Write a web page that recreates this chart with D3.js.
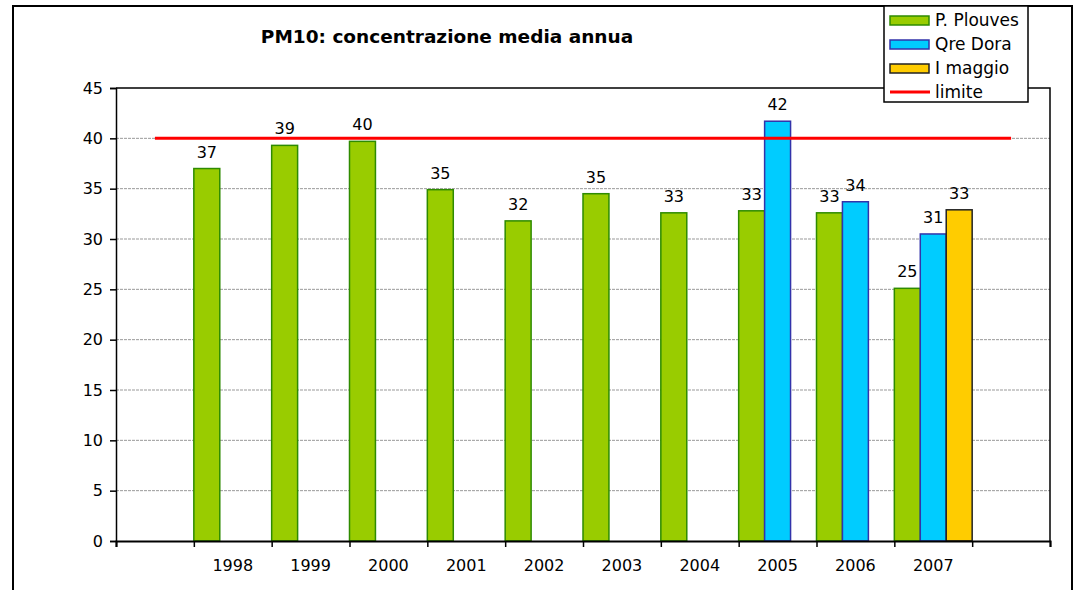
<!DOCTYPE html>
<html><head><meta charset="utf-8">
<script src="https://cdn.jsdelivr.net/npm/d3@7"></script>
<style>body{margin:0;background:#fff}svg{display:block}text{font-family:"DejaVu Sans",Verdana,sans-serif;fill:#000}</style>
</head><body><svg id="c" width="1076" height="590"></svg>
<script>
const categories = ["", "1998","1999","2000","2001","2002","2003","2004","2005","2006","2007", ""];
const seriesNames = ["P. Plouves","Qre Dora","I maggio"];
const plouves = [null, 37.0, 39.3, 39.7, 34.9, 31.8, 34.5, 32.6, 32.8, 32.6, 25.1, null];
const qreDora = [null, null, null, null, null, null, null, null, 41.7, 33.7, 30.5, null];
const maggio  = [null, null, null, null, null, null, null, null, null, null, 32.9, null];
const limite  = [40, 40, 40, 40, 40, 40, 40, 40, 40, 40, 40, 40];
const yTicks = [0,5,10,15,20,25,30,35,40,45];
const title = "PM10: concentrazione media annua";

const fills = ["#99CC00","#00CCFF","#FFCC00"];
const strokes = ["#2E8B00","#3333AA","#222222"];

const svg = d3.select("#c");
const L=116, R=1050, T=88, B=541;
// outer border
svg.append("rect").attr("x",13).attr("y",6).attr("width",1059).attr("height",600)
  .attr("fill","#fff").attr("stroke","#000").attr("stroke-width",2);

const x = d3.scaleBand().domain(d3.range(categories.length)).range([L,R]).padding(0);
const xs = d3.scaleBand().domain(d3.range(3)).range([0,x.bandwidth()]).padding(0);
const y = d3.scaleLinear().domain([0,45]).range([B,T]);

// gridlines
svg.append("g").selectAll("line").data(yTicks.filter(t=>t>0 && t<45)).join("line")
  .attr("x1",L).attr("x2",R).attr("y1",d=>y(d)).attr("y2",d=>y(d))
  .attr("stroke","#999").attr("stroke-width",1).attr("stroke-dasharray","3,1");

// plot frame top/right
svg.append("path").attr("d",`M${L},${T}H${R}V${B}`).attr("fill","none").attr("stroke","#000").attr("stroke-width",1.5);

// bars
const series = [plouves,qreDora,maggio];
const barData = [];
series.forEach((s,si)=>s.forEach((v,ci)=>{ if(v!=null) barData.push({si,ci,v}); }));
svg.append("g").selectAll("rect").data(barData).join("rect")
  .attr("x",d=>x(d.ci)+xs(d.si)).attr("width",xs.bandwidth())
  .attr("y",d=>y(d.v)).attr("height",d=>y(0)-y(d.v))
  .attr("fill",d=>fills[d.si]).attr("stroke",d=>strokes[d.si]).attr("stroke-width",1.5);

// limit line
const line = d3.line().x((d,i)=>x(i)+x.bandwidth()/2).y(d=>y(d));
svg.append("path").datum(limite).attr("d",line).attr("fill","none").attr("stroke","#FF0000").attr("stroke-width",3);

// data labels
svg.append("g").selectAll("text").data(barData).join("text")
  .attr("x",d=>x(d.ci)+xs(d.si)+xs.bandwidth()/2).attr("y",d=>y(d.v)-11)
  .attr("text-anchor","middle").attr("font-size",16).text(d=>d3.format(".0f")(d.v));

// y axis
const yAxis = d3.axisLeft(y).tickValues(yTicks).tickSize(6).tickPadding(7);
const gy = svg.append("g").attr("transform",`translate(${L},0)`).call(yAxis);
gy.select(".domain").attr("stroke","#000").attr("stroke-width",1.5);
gy.selectAll(".tick line").attr("stroke","#000").attr("stroke-width",1.5);
gy.selectAll("text").attr("font-size",16).attr("font-family","DejaVu Sans").attr("fill","#000");

// x axis
const xl = d3.scaleLinear().domain([0,categories.length]).range([L,R]);
const xAxis = d3.axisBottom(xl).tickValues(d3.range(categories.length+1)).tickSize(6).tickFormat("");
const gx = svg.append("g").attr("transform",`translate(0,${B})`).call(xAxis);
gx.select(".domain").attr("stroke","#000").attr("stroke-width",2);
gx.selectAll(".tick line").attr("stroke","#000").attr("stroke-width",1.5);
svg.append("g").selectAll("text").data(categories).join("text")
  .attr("x",(d,i)=>x(i)+x.bandwidth()/2).attr("y",571).attr("text-anchor","middle")
  .attr("font-size",16).text(d=>d);

// title
svg.append("text").attr("x",447).attr("y",43).attr("text-anchor","middle")
  .attr("font-size",18.5).attr("font-weight","bold").text(title);

// legend
const lg = svg.append("g");
lg.append("rect").attr("x",884).attr("y",6).attr("width",144).attr("height",96)
  .attr("fill","#fff").attr("stroke","#000").attr("stroke-width",1.5);
const legendItems = seriesNames.map((n,i)=>({n,i})).concat([{n:"limite",i:3}]);
const li = lg.selectAll("g").data(legendItems).join("g").attr("transform",(d,k)=>`translate(890,${20+24*k})`);
li.filter(d=>d.i<3).append("rect").attr("x",0).attr("y",-4).attr("width",39).attr("height",9)
  .attr("fill",d=>fills[d.i]).attr("stroke",d=>strokes[d.i]).attr("stroke-width",1.5);
li.filter(d=>d.i===3).append("line").attr("x1",0).attr("x2",40).attr("y1",0).attr("y2",0)
  .attr("stroke","#FF0000").attr("stroke-width",3);
li.append("text").attr("x",45).attr("y",6).attr("font-size",17).text(d=>d.n);
</script></body></html>
